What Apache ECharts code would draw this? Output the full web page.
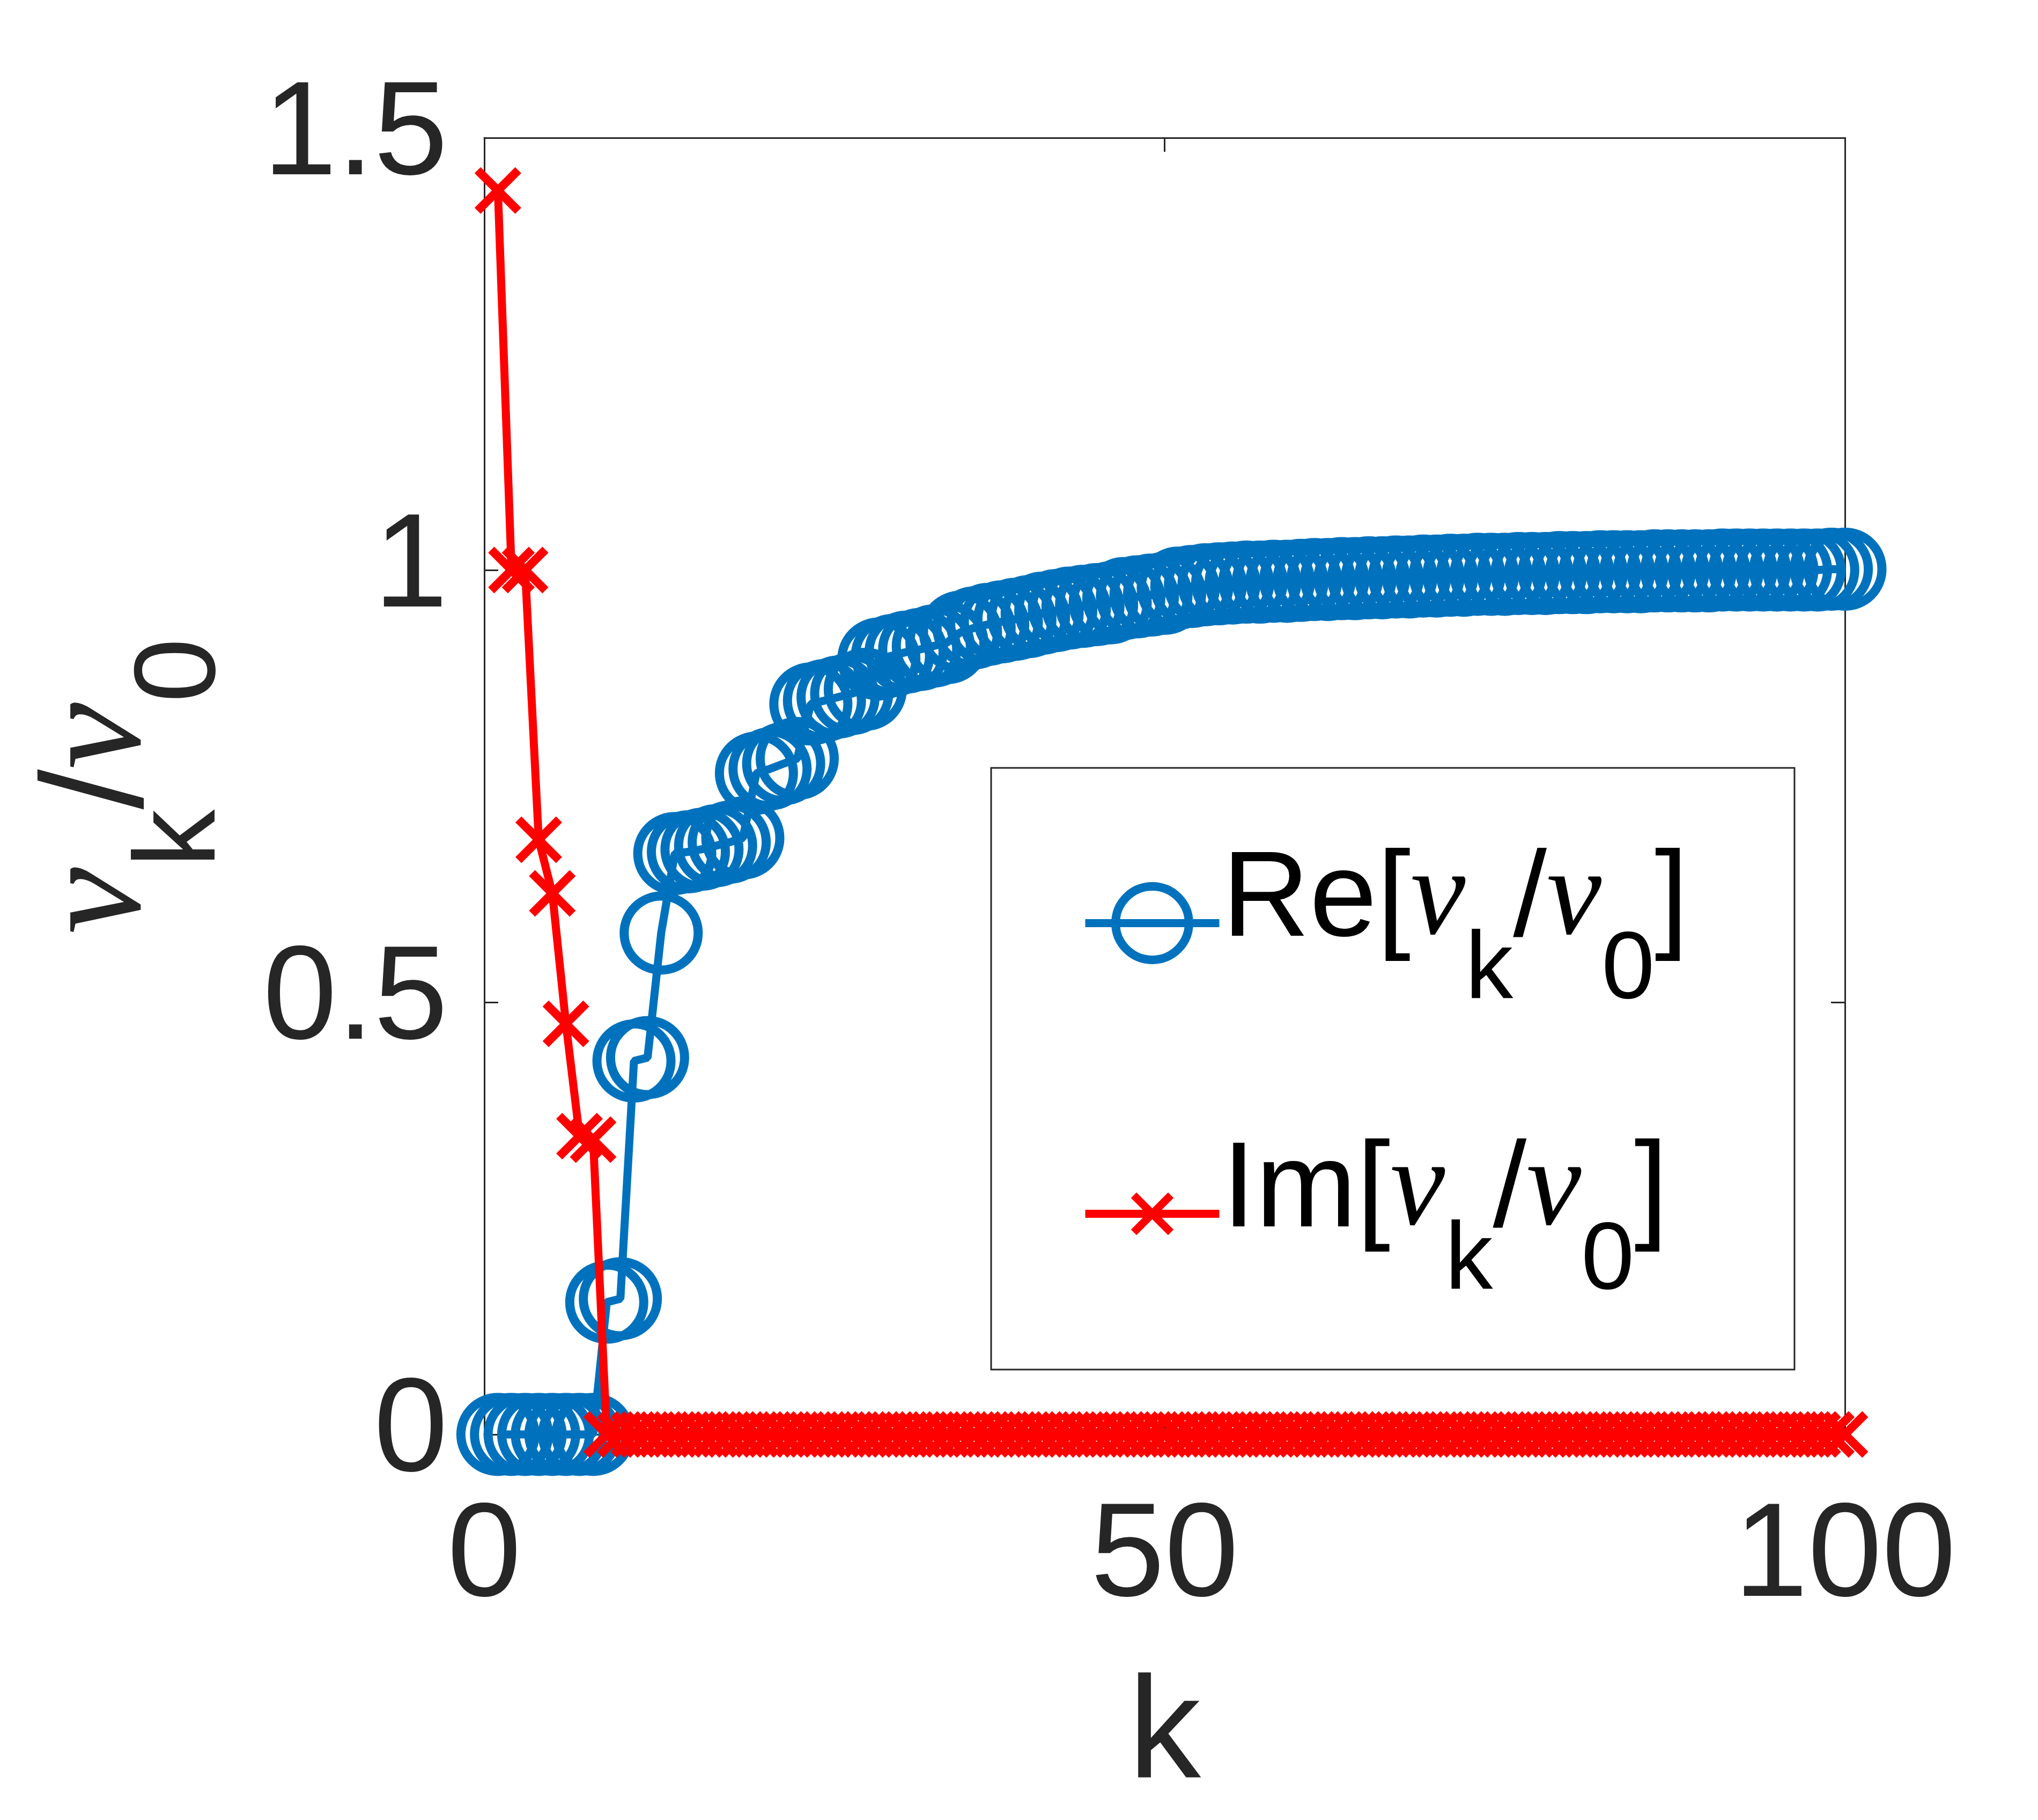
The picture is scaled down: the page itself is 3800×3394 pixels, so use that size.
<!DOCTYPE html>
<html>
<head>
<meta charset="utf-8">
<script src="https://cdn.jsdelivr.net/npm/echarts@6/dist/echarts.min.js"></script>
<style>
html,body{margin:0;padding:0;background:#fff;}
#chart{width:3800px;height:3394px;}
</style>
</head>
<body>
<div id="chart"></div>
<script>
const kValues = [
  1,2,3,4,5,6,7,8,9,10,
  11,12,13,14,15,16,17,18,19,20,
  21,22,23,24,25,26,27,28,29,30,
  31,32,33,34,35,36,37,38,39,40,
  41,42,43,44,45,46,47,48,49,50,
  51,52,53,54,55,56,57,58,59,60,
  61,62,63,64,65,66,67,68,69,70,
  71,72,73,74,75,76,77,78,79,80,
  81,82,83,84,85,86,87,88,89,90,
  91,92,93,94,95,96,97,98,99,100
];
const reValues = [
  0, 0, 0, 0, 0, 0, 0, 0, 0.153, 0.157,
  0.432, 0.436, 0.58, 0.672, 0.674, 0.677, 0.681, 0.685, 0.69, 0.765,
  0.77, 0.776, 0.782, 0.845, 0.849, 0.853, 0.857, 0.862, 0.897, 0.901,
  0.905, 0.908, 0.912, 0.916, 0.928, 0.933, 0.937, 0.94, 0.943, 0.946,
  0.95, 0.953, 0.956, 0.958, 0.96, 0.962, 0.967, 0.969, 0.971, 0.973,
  0.979, 0.981, 0.983, 0.984, 0.985, 0.986, 0.986, 0.987, 0.987, 0.988,
  0.989, 0.989, 0.99, 0.99, 0.991, 0.991, 0.992, 0.992, 0.993, 0.993,
  0.994, 0.994, 0.995, 0.995, 0.995, 0.996, 0.996, 0.996, 0.997, 0.997,
  0.997, 0.998, 0.998, 0.998, 0.998, 0.999, 0.999, 0.999, 0.999, 0.999,
  1.0, 1.0, 1.0, 1.0, 1.0, 1.0, 1.0, 1.0, 1.001, 1.001
];
const imValues = [
  1.439, 1.0, 1.0, 0.688, 0.626, 0.475, 0.345, 0.341, 0, 0,
  0, 0, 0, 0, 0, 0, 0, 0, 0, 0,
  0, 0, 0, 0, 0, 0, 0, 0, 0, 0,
  0, 0, 0, 0, 0, 0, 0, 0, 0, 0,
  0, 0, 0, 0, 0, 0, 0, 0, 0, 0,
  0, 0, 0, 0, 0, 0, 0, 0, 0, 0,
  0, 0, 0, 0, 0, 0, 0, 0, 0, 0,
  0, 0, 0, 0, 0, 0, 0, 0, 0, 0,
  0, 0, 0, 0, 0, 0, 0, 0, 0, 0,
  0, 0, 0, 0, 0, 0, 0, 0, 0, 0
];
const xTicks = [0, 50, 100];
const yTicks = [0, 0.5, 1, 1.5];
const seriesNames = ['Re[νk/ν0]', 'Im[νk/ν0]'];
const legendPrefixes = ['Re[', 'Im['];

const BLUE = '#0072BD';
const RED = '#FF0000';
const INK = '#262626';

// X marker with transparent margin so that the cross fills ~58% of its box
const xMarkPath = 'path://M0,0L0,0ZM100,100L100,100ZM21,28.5L28.5,21L50,42.5L71.5,21L79,28.5L57.5,50L79,71.5L71.5,79L50,57.5L28.5,79L21,71.5L42.5,50Z';

const chart = echarts.init(document.getElementById('chart'), null, {renderer: 'canvas'});

const axisLineStyle = {show: true, onZero: false, lineStyle: {color: INK, width: 3}};
const axisTickStyle = {show: true, inside: true, length: 26, lineStyle: {color: INK, width: 3}};

const xBase = {
  type: 'value',
  min: xTicks[0], max: xTicks[xTicks.length - 1], interval: xTicks[1] - xTicks[0],
  axisLine: axisLineStyle, axisTick: axisTickStyle,
  splitLine: {show: false}, minorTick: {show: false}
};
const yBase = {
  type: 'value',
  min: yTicks[0], max: yTicks[yTicks.length - 1], interval: yTicks[1] - yTicks[0],
  axisLine: axisLineStyle, axisTick: axisTickStyle,
  splitLine: {show: false}, minorTick: {show: false}
};

const yNameRich = {
  nu: {fontFamily: 'Liberation Serif', fontStyle: 'italic', fontSize: 280, color: INK, padding: [0, 0, 127, 0]},
  sl: {fontFamily: 'Liberation Sans', fontSize: 270, color: INK, padding: [5, 0, 122, 0]},
  sub: {fontFamily: 'Liberation Sans', fontSize: 216, color: INK, padding: [181, 0, 0, 0]}
};

const legendRich = {
  a: {fontFamily: 'Liberation Sans', fontSize: 226, color: '#000', padding: [27, 0, 105, 0]},
  nu: {fontFamily: 'Liberation Serif', fontStyle: 'italic', fontSize: 230, color: '#000', padding: [24, 0, 105, 0]},
  sub: {fontFamily: 'Liberation Sans', fontSize: 178, color: '#000', padding: [181, 0, 0, 0]}
};

const option = {
  backgroundColor: '#fff',
  animation: false,
  grid: {left: 903, right: 360, top: 257, bottom: 719, containLabel: false},
  xAxis: [
    Object.assign({}, xBase, {
      position: 'bottom',
      axisLabel: {show: true, fontSize: 248, color: INK, fontFamily: 'Liberation Sans', margin: 109, showMinLabel: true, showMaxLabel: true},
      name: 'k', nameLocation: 'middle', nameGap: 430,
      nameTextStyle: {fontSize: 270, color: INK, fontFamily: 'Liberation Sans'}
    }),
    Object.assign({}, xBase, {position: 'top', axisLabel: {show: false}})
  ],
  yAxis: [
    Object.assign({}, yBase, {
      position: 'left',
      axisLabel: {show: true, fontSize: 248, color: INK, fontFamily: 'Liberation Sans', margin: 68, showMinLabel: true, showMaxLabel: true},
      name: '{nu|ν}{sub|k}{sl|/}{nu|ν}{sub|0}',
      nameLocation: 'middle', nameGap: 450, nameRotate: 90,
      nameTextStyle: {fontSize: 270, color: INK, fontFamily: 'Liberation Sans', rich: yNameRich}
    }),
    Object.assign({}, yBase, {position: 'right', axisLabel: {show: false}})
  ],
  legend: {
    orient: 'vertical',
    left: 1848, top: 1432,
    padding: [134, 198, 111, 168],
    itemWidth: 250, itemHeight: 171, itemGap: 207,
    borderColor: INK, borderWidth: 3, backgroundColor: '#fff',
    selectedMode: false,
    data: [
      {name: seriesNames[0], itemStyle: {borderWidth: 16}, lineStyle: {width: 15}},
      {name: seriesNames[1], itemStyle: {borderWidth: 0}, lineStyle: {width: 15}}
    ],
    formatter: function (name) {
      const idx = seriesNames.indexOf(name);
      return '{a|' + legendPrefixes[idx] + '}{nu|ν}{sub|k}{a|/}{nu|ν}{sub|0}{a|]}';
    },
    textStyle: {fontSize: 226, fontFamily: 'Liberation Sans', color: '#000', rich: legendRich}
  },
  series: [
    {
      name: seriesNames[0],
      type: 'line',
      xAxisIndex: 0, yAxisIndex: 0,
      data: kValues.map((k, i) => [k, reValues[i]]),
      symbol: 'circle', symbolSize: 138,
      showAllSymbol: true,
      clip: false,
      lineStyle: {color: BLUE, width: 15},
      itemStyle: {color: 'rgba(0,0,0,0)', borderColor: BLUE, borderWidth: 17},
      emphasis: {disabled: true},
      z: 2
    },
    {
      name: seriesNames[1],
      type: 'line',
      xAxisIndex: 0, yAxisIndex: 0,
      data: kValues.map((k, i) => [k, imValues[i]]),
      symbol: xMarkPath, symbolSize: 150, symbolKeepAspect: true,
      showAllSymbol: true,
      clip: false,
      lineStyle: {color: RED, width: 15},
      itemStyle: {color: RED, borderWidth: 0},
      emphasis: {disabled: true},
      z: 3
    }
  ]
};
chart.setOption(option);
</script>
</body>
</html>
